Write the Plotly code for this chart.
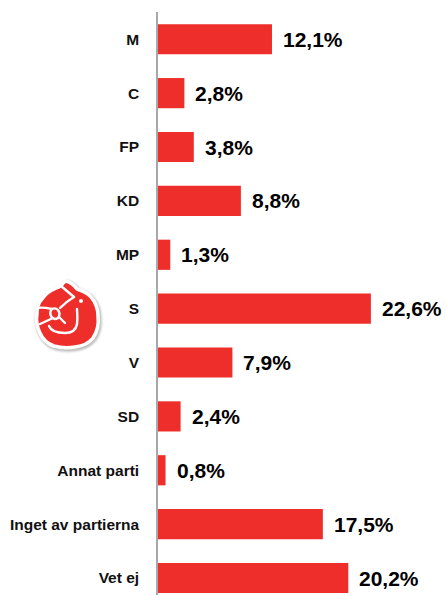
import base64
import plotly.graph_objects as go

categories = ["M", "C", "FP", "KD", "MP", "S", "V", "SD", "Annat parti",
              "Inget av partierna", "Vet ej"]
values = [12.1, 2.8, 3.8, 8.8, 1.3, 22.6, 7.9, 2.4, 0.8, 17.5, 20.2]
value_labels = ["12,1%", "2,8%", "3,8%", "8,8%", "1,3%", "22,6%", "7,9%",
                "2,4%", "0,8%", "17,5%", "20,2%"]

W, H = 446, 595
ML, MR, MT, MB = 158, 5, 12, 0
PW, PH = W - ML - MR, H - MT - MB
X_MAX = PW / 9.42

RED = "#ee2e2a"

fig = go.Figure()
fig.add_trace(go.Bar(
    x=values, y=categories, orientation="h",
    marker=dict(color=RED, line=dict(width=0)),
    width=0.56, hoverinfo="skip",
))

for v, c, t in zip(values, categories, value_labels):
    fig.add_annotation(x=v, y=c, xref="x", yref="y", text=t, showarrow=False,
                       xanchor="left", yanchor="middle", xshift=9,
                       font=dict(family="Liberation Sans, Arial", size=21,
                                 color="#000000", weight="bold"))

# Social Democrat rose logo as an inline SVG image
OUTER = ("M39 5 C43 6 47 9 50 13 C56 15 61 17 64 21 C69 27 71 33 71 40 "
         "C72 48 70 56 66 62 C62 67 56 70 48 71 C42 72 34 72 27 70 "
         "C21 68 16 64 13 57 C10 51 9 44 10 38 C10 32 11 27 15 23 "
         "C18 19 21 16 25 14 C28 12 31 11 34 10 C35 8 37 6 39 5 Z")
svg = f"""<svg xmlns='http://www.w3.org/2000/svg' viewBox='0 0 78 78' width='78' height='78'>
<defs><filter id='b' x='-20%' y='-20%' width='140%' height='140%'><feGaussianBlur stdDeviation='1.2'/></filter></defs>
<path d='{OUTER}' fill='none' stroke='#bdbdbd' stroke-width='5' stroke-linejoin='round' transform='translate(1,1.5)' filter='url(#b)'/>
<path d='{OUTER}' fill='{RED}' stroke='#ffffff' stroke-width='3.5' stroke-linejoin='round'/>
<g fill='none' stroke='#ffffff' stroke-width='2.4' stroke-linecap='round' stroke-linejoin='round'>
<path d='M34 10 L47 21'/>
<path d='M47 21 C42 24 37 28 33 32'/>
<path d='M10 32 C15 31 20 32 25 33'/>
<path d='M25 33 C22 36 23 42 28 43 C32 43 34 38 31 34 C29 32 27 32 25 33 Z'/>
<path d='M26 42 L13 48'/>
<path d='M32 41 L38 47'/>
<path d='M22 50 C24 55 30 57 38 57 C45 57 49 54 50 48 C51 42 50 37 50 33'/>
</g>
<circle cx='54' cy='25' r='2' fill='#ffffff'/>
</svg>"""
src = "data:image/svg+xml;base64," + base64.b64encode(svg.encode()).decode()

LOGO_X, LOGO_Y, LOGO_S = 27, 276, 78
fig.add_layout_image(dict(
    source=src, xref="paper", yref="paper",
    x=(LOGO_X - ML) / PW, y=(H - MB - LOGO_Y) / PH,
    sizex=LOGO_S / PW, sizey=LOGO_S / PH,
    xanchor="left", yanchor="top", sizing="stretch", layer="above",
))

fig.update_layout(
    width=W, height=H,
    margin=dict(l=ML, r=MR, t=MT, b=MB, pad=0),
    paper_bgcolor="white", plot_bgcolor="white",
    showlegend=False,
    bargap=0.44,
    xaxis=dict(range=[0, X_MAX], visible=False, fixedrange=True),
    yaxis=dict(type="category", categoryorder="array", categoryarray=categories,
               range=[10.315, -0.506], showline=True, linecolor="#a8a8a8",
               linewidth=1.5, showgrid=False, zeroline=False, ticks="",
               ticklabelstandoff=14,
               tickfont=dict(family="Liberation Sans, Arial", size=15.5,
                             color="#111111", weight="bold"),
               fixedrange=True),
)

fig.write_html("out.html", config={"displayModeBar": False},
               post_script="document.body.style.margin='0px';document.body.style.overflow='hidden';")
